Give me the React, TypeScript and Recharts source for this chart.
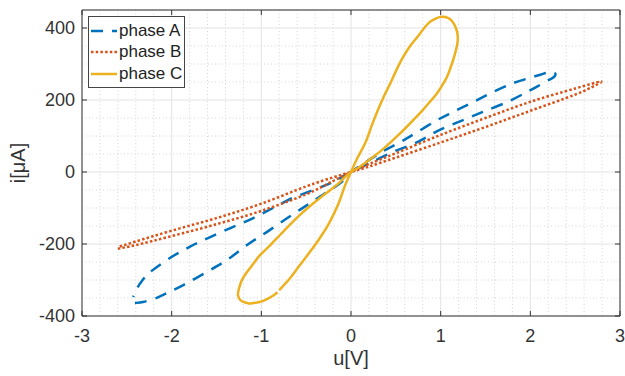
import {
  LineChart,
  Line,
  XAxis,
  YAxis,
  CartesianGrid,
  ReferenceLine,
  ReferenceArea,
  Legend,
} from "recharts";

/* ---------- Data ---------- */

// phase A: lower-left tip -> origin -> upper-right tip -> origin -> lower-left tip
const phaseAu = [
  -2.41, -2.32, -2.2, -2.1, -1.87, -1.61, -1.38, -1.16, -0.94, -0.71, -0.49, -0.27, -0.12, 0,
  0.18, 0.36, 0.55, 0.74, 0.96, 1.14, 1.36, 1.58, 1.81, 2.03, 2.12, 2.19, 2.25, 2.28,
  2.26, 2.2, 2.08, 1.96, 1.74, 1.47, 1.25, 0.99, 0.74, 0.47, 0.25, 0.1, 0,
  -0.2, -0.42, -0.65, -0.87, -1.09, -1.32, -1.57, -1.8, -2.02, -2.24, -2.33, -2.39, -2.43,
];
const phaseAi = [
  -364, -361, -353, -342, -314, -278, -244, -203, -167, -128, -92, -56, -31, 0,
  30, 58, 83, 111, 144, 167, 194, 222, 247, 264, 271, 276, 277, 272,
  263, 255, 238, 222, 194, 167, 144, 117, 83, 56, 30, 12, 0,
  -28, -50, -72, -100, -128, -153, -181, -208, -239, -278, -302, -325, -347,
];

// phase B: narrow loop
const phaseBu = [
  -2.6, -2.4, -2.0, -1.5, -1.0, -0.5, -0.2, 0,
  0.2, 0.5, 1.0, 1.5, 2.0, 2.5, 2.78,
  2.72, 2.5, 2.0, 1.5, 1.0, 0.5, 0.2, 0,
  -0.2, -0.5, -1.0, -1.5, -2.0, -2.4, -2.58,
];
const phaseBi = [
  -213, -203, -178, -145, -108, -62, -25, 0,
  22, 52, 103, 150, 195, 232, 251,
  240, 215, 170, 125, 82, 40, 15, 0,
  -15, -40, -88, -128, -163, -193, -207,
];

// phase C: figure eight
const phaseCu = [
  -0.8, -0.69, -0.58, -0.47, -0.36, -0.25, -0.14, -0.07, 0,
  0.07, 0.16, 0.23, 0.3, 0.37, 0.44, 0.51, 0.58, 0.66, 0.74, 0.81, 0.88, 0.95, 1.015,
  1.08, 1.13, 1.17, 1.19, 1.185, 1.15, 1.11, 1.07, 1.02, 0.96, 0.88, 0.8, 0.71, 0.62,
  0.53, 0.435, 0.34, 0.245, 0.16, 0.08, 0,
  -0.06, -0.123, -0.23, -0.346, -0.46, -0.569, -0.68, -0.792, -0.9, -1.015, -1.09, -1.16,
  -1.21, -1.238, -1.255, -1.26, -1.24, -1.2, -1.14, -1.09, -1.02, -0.96, -0.9, -0.855, -0.82,
];
const phaseCi = [
  -328, -298, -262, -226, -188, -145, -88, -40, 0,
  38, 81, 128, 172, 212, 247, 285, 319, 350, 375, 398, 417, 427, 431,
  428, 418, 400, 378, 355, 320, 290, 264, 242, 219, 195, 172, 148, 125,
  103, 81, 60, 42, 26, 12, 0,
  -12, -28, -50, -72, -95, -119, -146, -175, -203, -231, -255, -278,
  -297, -314, -330, -342, -354, -361, -365, -364, -361, -356, -348, -341, -334,
];

const xTicks = [-3, -2, -1, 0, 1, 2, 3];
const yTicks = [-400, -200, 0, 200, 400];

const toPoints = (u: number[], i: number[]) => u.map((x, k) => ({ x, y: i[k] }));

const series = [
  { name: "phase A", color: "#0072BD", dash: "12 9", data: toPoints(phaseAu, phaseAi) },
  { name: "phase B", color: "#D95319", dash: "2.5 2.2", data: toPoints(phaseBu, phaseBi) },
  { name: "phase C", color: "#EDB120", dash: undefined, data: toPoints(phaseCu, phaseCi) },
];

/* ---------- Styling ---------- */

const FONT = "'Liberation Sans', Arial, sans-serif";
const TEXT = "#333333";
const X_MIN = -3;
const X_MAX = 3;
const Y_MIN = -400;
const Y_MAX = 450;

const minorX: number[] = [];
for (let k = 1; k < 30; k++) if (k % 5 !== 0) minorX.push(X_MIN + k * 0.2);
const minorY: number[] = [];
for (let v = -350; v <= 450; v += 50) if (v % 200 !== 0) minorY.push(v);

// Catmull-Rom through the points in drawing order (the loops are not functions of x)
function loopCurve(context: any) {
  let pts: number[][] = [];
  return {
    areaStart() {},
    areaEnd() {},
    lineStart() {
      pts = [];
    },
    point(x: number, y: number) {
      pts.push([x, y]);
    },
    lineEnd() {
      if (!pts.length) return;
      context.moveTo(pts[0][0], pts[0][1]);
      for (let k = 0; k < pts.length - 1; k++) {
        const p0 = pts[Math.max(k - 1, 0)];
        const p1 = pts[k];
        const p2 = pts[k + 1];
        const p3 = pts[Math.min(k + 2, pts.length - 1)];
        context.bezierCurveTo(
          p1[0] + (p2[0] - p0[0]) / 6,
          p1[1] + (p2[1] - p0[1]) / 6,
          p2[0] - (p3[0] - p1[0]) / 6,
          p2[1] - (p3[1] - p1[1]) / 6,
          p2[0],
          p2[1]
        );
      }
    },
  };
}

function LegendBox() {
  return (
    <div
      style={{
        border: "1px solid #444",
        background: "#fff",
        width: 95,
        paddingTop: 3,
        paddingBottom: 2,
        fontFamily: FONT,
        fontSize: 17,
        color: "#222",
      }}
    >
      {series.map((s) => (
        <div key={s.name} style={{ display: "flex", alignItems: "center", height: 21.5 }}>
          <svg width={30} height={10} style={{ flex: "none" }}>
            <line x1={2} y1={5} x2={28} y2={5} stroke={s.color} strokeWidth={2.5} strokeDasharray={s.dash} />
          </svg>
          <span style={{ whiteSpace: "nowrap" }}>{s.name}</span>
        </div>
      ))}
    </div>
  );
}

export default function App() {
  return (
    <div style={{ position: "absolute", left: 0, top: 0, background: "#fff" }}>
      <LineChart width={625} height={376} margin={{ top: 10, right: 5, left: 0, bottom: 0 }}>
        <CartesianGrid
          stroke="#d6d6d6"
          strokeDasharray="1 2.5"
          verticalCoordinatesGenerator={({ offset }: any) =>
            minorX.map((v) => offset.left + ((v - X_MIN) / (X_MAX - X_MIN)) * offset.width)
          }
          horizontalCoordinatesGenerator={({ offset }: any) =>
            minorY.map((v) => offset.top + ((Y_MAX - v) / (Y_MAX - Y_MIN)) * offset.height)
          }
        />
        <CartesianGrid stroke="#e3e3e3" />
        <XAxis
          type="number"
          dataKey="x"
          domain={[X_MIN, X_MAX]}
          ticks={xTicks}
          allowDataOverflow
          height={60}
          axisLine={false}
          tickLine={false}
          tickSize={0}
          tickMargin={13}
          tick={{ fill: TEXT, fontSize: 18, fontFamily: FONT }}
          label={{ value: "u[V]", position: "insideBottom", offset: 11, fill: TEXT, fontSize: 20, fontFamily: FONT }}
        />
        <YAxis
          type="number"
          dataKey="y"
          domain={[Y_MIN, Y_MAX]}
          ticks={yTicks}
          allowDataOverflow
          width={82}
          axisLine={false}
          tickLine={false}
          tickSize={0}
          tickMargin={7}
          tick={{ fill: TEXT, fontSize: 18, fontFamily: FONT }}
          label={{
            value: "i[μA]",
            angle: -90,
            position: "insideLeft",
            offset: 18,
            fill: TEXT,
            fontSize: 20,
            fontFamily: FONT,
            style: { textAnchor: "middle" },
          }}
        />
        <ReferenceArea x1={X_MIN} x2={X_MAX} y1={Y_MIN} y2={Y_MAX} fill="none" stroke="#333" strokeWidth={1} />
        {xTicks.map((t) => (
          <ReferenceLine key={"xb" + t} segment={[{ x: t, y: Y_MIN }, { x: t, y: Y_MIN + 14 }]} stroke="#333" />
        ))}
        {xTicks.map((t) => (
          <ReferenceLine key={"xt" + t} segment={[{ x: t, y: Y_MAX }, { x: t, y: Y_MAX - 14 }]} stroke="#333" />
        ))}
        {yTicks.map((t) => (
          <ReferenceLine key={"yl" + t} segment={[{ x: X_MIN, y: t }, { x: X_MIN + 0.056, y: t }]} stroke="#333" />
        ))}
        {yTicks.map((t) => (
          <ReferenceLine key={"yr" + t} segment={[{ x: X_MAX, y: t }, { x: X_MAX - 0.056, y: t }]} stroke="#333" />
        ))}
        {series.map((s) => (
          <Line
            key={s.name}
            name={s.name}
            data={s.data}
            dataKey="y"
            type={loopCurve as any}
            stroke={s.color}
            strokeWidth={2.5}
            strokeDasharray={s.dash}
            dot={false}
            activeDot={false}
            isAnimationActive={false}
          />
        ))}
        <Legend
          layout="vertical"
          align="center"
          verticalAlign="middle"
          wrapperStyle={{ left: 88, top: 16, width: 97 }}
          content={() => <LegendBox />}
        />
      </LineChart>
    </div>
  );
}
